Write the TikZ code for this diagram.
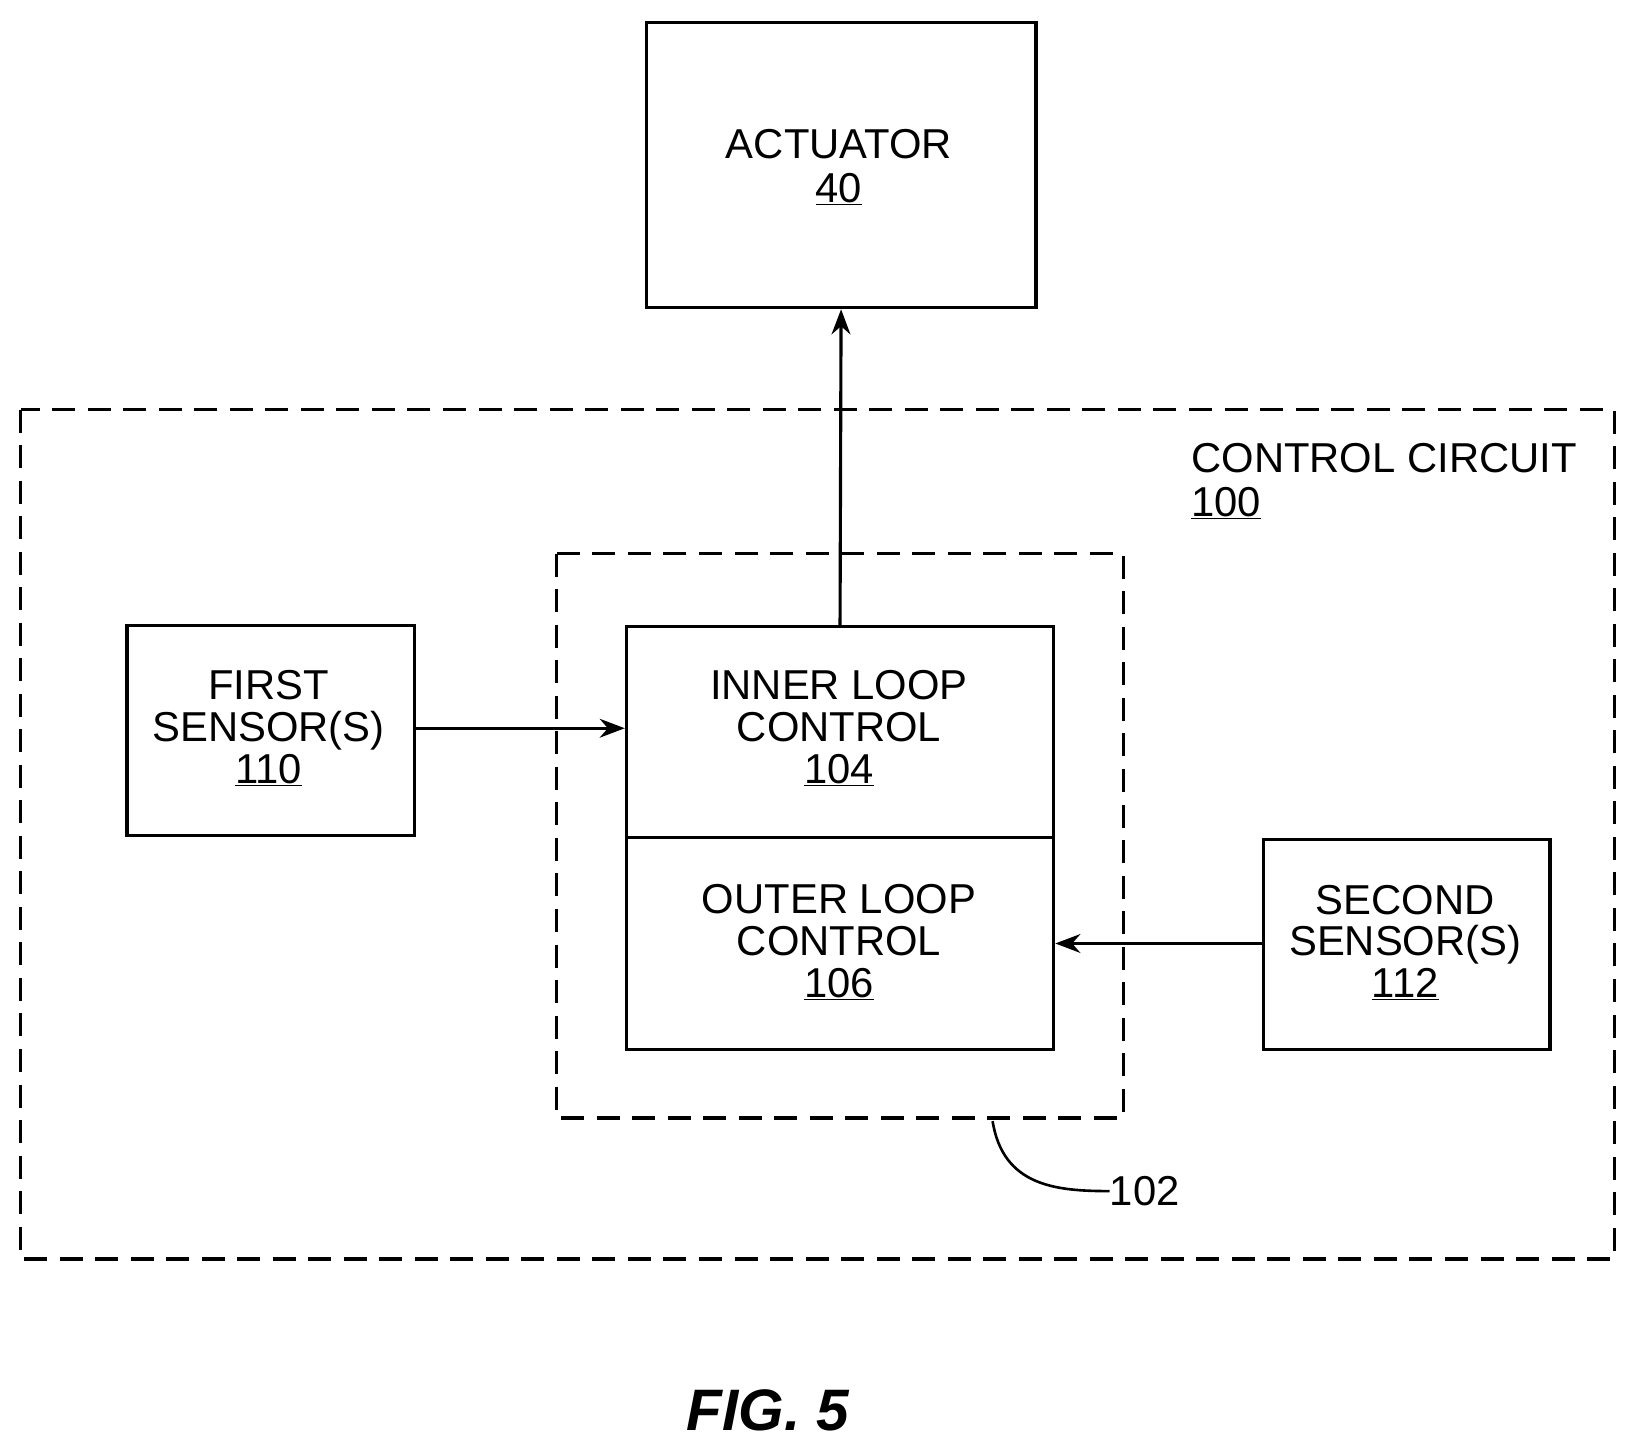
\documentclass[tikz,border=0pt]{standalone}
\usepackage{fontspec}
\setmainfont{Liberation Sans}
\usetikzlibrary{arrows.meta}
\begin{document}
\begin{tikzpicture}[x=1pt,y=-1pt,
  box/.style={draw,line width=3pt},
  dsh/.style={draw,line width=3pt,dash pattern=on 22pt off 12pt},
  lbl/.style={font=\fontsize{40}{40}\selectfont,align=center,inner sep=0},
  arr/.style={line width=3pt,-{Stealth[length=24pt,width=18pt]}}]
\useasboundingbox (0,0) rectangle (1562,1390);
\node[box,minimum width=373pt,minimum height=273pt,anchor=north west] (act) at (617,20) {};
\node[lbl] at (803,160) {ACTUATOR\\[2pt]\underline{40}};
\draw[dsh] (20,392) rectangle (1545,1205);
\node[lbl,align=left,anchor=north west] (cc) at (1140,424) {CONTROL CIRCUIT\\[2pt]\underline{100}};
\draw[dsh] (533,530) rectangle (1075,1070);
\node[box,minimum width=409pt,minimum height=202pt,anchor=north west] (il) at (598,598) {};
\node[lbl] at (803,697) {INNER LOOP\\CONTROL\\\underline{104}};
\node[box,minimum width=409pt,minimum height=203pt,anchor=north west] (ol) at (598,800) {};
\node[lbl] at (803,902) {OUTER LOOP\\CONTROL\\\underline{106}};
\node[box,minimum width=275pt,minimum height=201pt,anchor=north west] (fs) at (120,597) {};
\node[lbl] at (257,697) {FIRST\\SENSOR(S)\\\underline{110}};
\node[box,minimum width=274pt,minimum height=201pt,anchor=north west] (ss) at (1208,802) {};
\node[lbl] at (1345,902) {SECOND\\SENSOR(S)\\\underline{112}};
\draw[arr] (il.north) -- (act.south);
\draw[arr] (fs.east |- 0,697) -- (il.west |- 0,697);
\draw[arr] (ss.east |- 0,903) ++(-274,0) -- (ol.east |- 0,903);
\coordinate (lk) at (950,1073);
\node[lbl,anchor=west] (n102) at (1062,1140) {102};
\draw[line width=2.5pt] (lk) .. controls (960,1135) and (1010,1140) .. (n102.west);
\node[font=\fontsize{56}{56}\selectfont\bfseries\itshape] (fig) at (735,1350) {FIG. 5};
\end{tikzpicture}
\end{document}
